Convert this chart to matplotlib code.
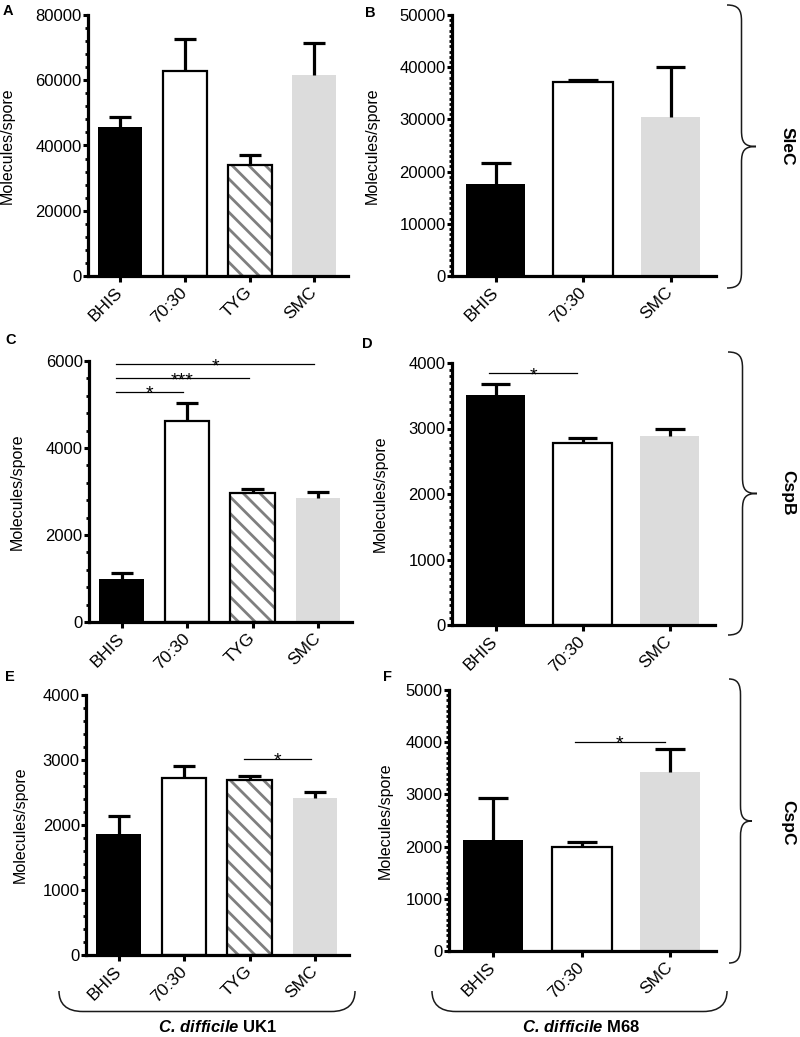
import matplotlib
matplotlib.use("Agg")
import matplotlib.pyplot as plt
import matplotlib.transforms as mtransforms
from matplotlib.path import Path
from matplotlib.patches import PathPatch
from matplotlib.ticker import MultipleLocator
import numpy as np

# data
media_uk1 = ["BHIS", "70:30", "TYG", "SMC"]
media_m68 = ["BHIS", "70:30", "SMC"]

slec_uk1 = [45600, 62900, 34000, 61600]
slec_uk1_err = [3100, 9600, 3200, 9700]
slec_m68 = [17700, 37100, 30400]
slec_m68_err = [4000, 400, 9700]

cspb_uk1 = [1000, 4620, 2955, 2855]
cspb_uk1_err = [130, 415, 92, 123]
cspb_m68 = [3516, 2776, 2888]
cspb_m68_err = [163, 76, 102]

cspc_uk1 = [1857, 2718, 2692, 2420]
cspc_uk1_err = [281, 190, 67, 83]
cspc_m68 = [2125, 1985, 3436]
cspc_m68_err = [800, 96, 435]

# significance bars: (from index, to index, y, label)
sig_c = [(0, 1, 5290, "*"), (0, 2, 5600, "***"), (0, 3, 5920, "*")]
sig_d = [(0, 1, 3840, "*")]
sig_e = [(2, 3, 3015, "*")]
sig_f = [(1, 2, 4000, "*")]

plt.rcParams['font.family'] = ['Liberation Sans', 'DejaVu Sans']
plt.rcParams['hatch.linewidth'] = 2.0
plt.rcParams['mathtext.fontset'] = 'custom'
plt.rcParams['mathtext.rm'] = 'Liberation Sans'
plt.rcParams['mathtext.it'] = 'Liberation Sans:italic'
plt.rcParams['mathtext.bf'] = 'Liberation Sans:bold'
plt.rcParams['mathtext.bfit'] = 'Liberation Sans:italic:bold'

W, H = 800, 1037
fig = plt.figure(figsize=(W / 100, H / 100), dpi=100)
# pixel coords with origin at top left
px = mtransforms.Affine2D().scale(1.0 / W, -1.0 / H).translate(0, 1) + fig.transFigure

styles = {
    "BHIS": dict(facecolor="black", edgecolor="black", lw=0),
    "70:30": dict(facecolor="white", edgecolor="black", lw=1.6),
    "TYG": dict(facecolor="white", edgecolor="black", lw=1.6),
    "SMC": dict(facecolor="#dcdcdc", edgecolor="#dcdcdc", lw=0),
}
bw = 0.68


def panel(rect, names, vals, errs, ymax, major, minor, lab_dx, sig=()):
    l, r, t, b = rect
    ax = fig.add_axes([l / W, 1 - b / H, (r - l) / W, (b - t) / H])
    x = np.arange(len(names))
    vals = np.array(vals)
    tops = vals + np.array(errs)
    for i, name in enumerate(names):
        if name == "TYG":
            ax.bar(x[i], vals[i], bw, facecolor="white", edgecolor="#7f7f7f",
                   hatch="\\\\", lw=0, zorder=2)
            ax.bar(x[i], vals[i], bw, facecolor="none", edgecolor="black",
                   lw=1.6, zorder=2.5)
        else:
            ax.bar(x[i], vals[i], bw, zorder=2, **styles[name])
    # upper error bars only
    ax.vlines(x, vals, tops, color="black", lw=2.3, zorder=3)
    ax.hlines(tops, x - bw / 4, x + bw / 4, color="black", lw=2.3, zorder=3)
    for i, j, y, txt in sig:
        ax.plot([i - 0.08, j - 0.06], [y, y], color="black", lw=0.9, zorder=3)
        ax.annotate(txt, xy=((i + j) / 2 - 0.07, y), xytext=(0, -4.8),
                    textcoords="offset points", ha="center", va="baseline",
                    fontsize=14)
    ax.set_xlim(-0.5, len(names) - 0.48)
    ax.set_ylim(0, ymax)
    ax.yaxis.set_major_locator(MultipleLocator(major))
    ax.yaxis.set_minor_locator(MultipleLocator(minor))
    ax.spines[["top", "right"]].set_visible(False)
    ax.spines[["left", "bottom"]].set_linewidth(2.3)
    ax.tick_params(axis="y", which="major", length=3.5, width=2.2, labelsize=12, pad=1)
    ax.tick_params(axis="y", which="minor", length=2.5, width=2.0)
    ax.tick_params(axis="x", length=4, width=2.2, labelsize=12.5, pad=6)
    ax.set_xticks(x)
    ax.set_xticklabels(names, rotation=45, ha="right", va="center",
                       rotation_mode="anchor")
    ax.set_ylabel("Molecules/spore", fontsize=11.5)
    ax.yaxis.set_label_coords(-lab_dx / (r - l), 0.5)
    return ax


panel((88, 348, 15, 276), media_uk1, slec_uk1, slec_uk1_err, 80000, 20000, 4000, 73)
panel((452, 716, 15, 276), media_m68, slec_m68, slec_m68_err, 50000, 10000, 1000, 72)
panel((89, 352, 361, 622), media_uk1, cspb_uk1, cspb_uk1_err, 6000, 2000, 400, 64, sig_c)
panel((452, 715, 363, 625), media_m68, cspb_m68, cspb_m68_err, 4000, 1000, 100, 64, sig_d)
panel((86, 349, 695, 955), media_uk1, cspc_uk1, cspc_uk1_err, 4000, 1000, 200, 58, sig_e)
panel((449, 716, 690, 951), media_m68, cspc_m68, cspc_m68_err, 5000, 1000, 100, 56, sig_f)

# panel letters
for letter, (lx, ly) in zip("ABCDEF", [(3, 4), (365, 6), (5, 333), (362, 337),
                                       (5, 670), (383, 670)]):
    fig.text(lx / W, 1 - ly / H, letter, fontsize=10.5, weight="bold",
             ha="left", va="top")

M, L, C = Path.MOVETO, Path.LINETO, Path.CURVE4


def right_brace(x0, xt, y0, y1):
    xm = (x0 + xt) / 2
    ym = (y0 + y1) / 2
    r = 16
    verts = [(x0, y0), (xm - 3, y0), (xm, y0 + 5), (xm, y0 + r),
             (xm, ym - r),
             (xm, ym - 4), (xm + 3, ym), (xt, ym),
             (xm + 3, ym), (xm, ym + 4), (xm, ym + r),
             (xm, y1 - r),
             (xm, y1 - 5), (xm - 3, y1), (x0, y1)]
    codes = [M, C, C, C, L, C, C, C, C, C, C, L, C, C, C]
    fig.add_artist(PathPatch(Path(verts, codes), transform=px, fill=False,
                             lw=1.1, edgecolor="#1a1a1a"))


def bottom_bracket(x0, x1, y0, y1):
    r = 24
    verts = [(x0, y0), (x0, y1 - 8), (x0 + 7, y1), (x0 + r, y1),
             (x1 - r, y1),
             (x1 - 7, y1), (x1, y1 - 8), (x1, y0)]
    codes = [M, C, C, C, L, C, C, C]
    fig.add_artist(PathPatch(Path(verts, codes), transform=px, fill=False,
                             lw=1.1, edgecolor="#1a1a1a"))


right_brace(727, 756, 5, 288)
right_brace(728, 757, 352, 635)
right_brace(729, 752, 679, 963)
bottom_bracket(59, 355, 991, 1011.5)
bottom_bracket(432, 727, 991, 1011.5)

for txt, (tx, ty) in zip(["SleC", "CspB", "CspC"], [(787, 146), (788, 493), (788, 823)]):
    fig.text(tx / W, 1 - ty / H, txt, rotation=-90, ha="center", va="center",
             fontsize=12.5, weight="bold")

fig.text(218 / W, 1 - 1027 / H, r"$\mathbfit{C.\,difficile}$ UK1", fontsize=12,
         weight="bold", ha="center", va="center")
fig.text(581 / W, 1 - 1027 / H, r"$\mathbfit{C.\,difficile}$ M68", fontsize=12,
         weight="bold", ha="center", va="center")

fig.savefig("out.png", dpi=100)
